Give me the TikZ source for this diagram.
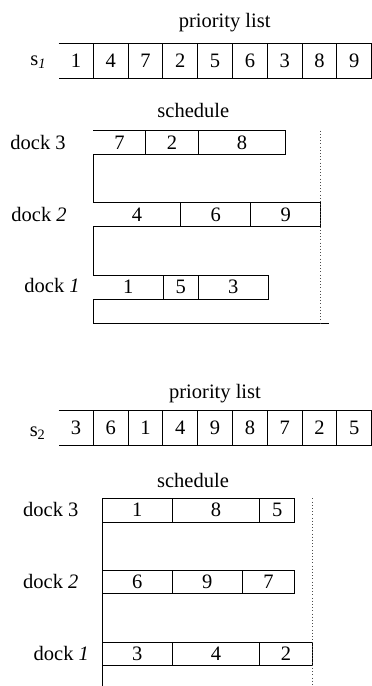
\documentclass[tikz,border=0pt]{standalone}
\usepackage{fontspec}
\setmainfont{Liberation Serif}
\usetikzlibrary{positioning}

\begin{document}
\begin{tikzpicture}[x=1pt,y=-1pt,font=\fontsize{20.5}{24}\selectfont,line width=0.9pt,
    lbl/.style={inner sep=0pt,anchor=base},
    dlbl/.style={inner sep=0pt,anchor=base west},
    lcell/.style={inner sep=0pt,outer sep=0pt,minimum width=34.8pt,minimum height=35pt,anchor=west},
    job/.style={inner sep=0pt,outer sep=0pt,minimum width=#1*17.5pt,minimum height=23.8pt,anchor=west},
    mk/.style={line width=0.8pt,black!70,dash pattern=on 0.8pt off 2.4pt}]
  \useasboundingbox (0,0) rectangle (372,686);

  % first priority list
  \node[lbl] (pl1) at (224.7,27) {priority list};
  \foreach \v [count=\i] in {1,4,7,2,5,6,3,8,9}
    \node[lcell] (pa\i) at ({58.5+(\i-1)*34.8},60.5) {\v};
  \node[dlbl] (s1) at (30,65) {s\textsubscript{\textit{1}}};
  \draw (pa1.north west) -- (pa9.north east) -- (pa9.south east) -- (pa1.south west);
  \foreach \i in {1,...,8} \draw (pa\i.north east) -- (pa\i.south east);

  % first schedule
  \node[lbl] (sc1) at (193.3,117) {schedule};
  \node[job=3] (ta7) at (93.3,142.5) {7};
  \node[job=3,right=0pt of ta7] (ta2) {2};
  \node[job=5,right=0pt of ta2] (ta8) {8};
  \node[job=5] (ta4) at (93.3,214.8) {4};
  \node[job=4,right=0pt of ta4] (ta6) {6};
  \node[job=4,right=0pt of ta6] (ta9) {9};
  \node[job=4] (ta1) at (93.3,287.2) {1};
  \node[job=2,right=0pt of ta1] (ta5) {5};
  \node[job=4,right=0pt of ta5] (ta3) {3};
  \node[dlbl] (td3) at (10,149) {dock 3};
  \node[dlbl] (td2) at (11,221) {dock \textit{2}};
  \node[dlbl] (td1) at (24,292.7) {dock \textit{1}};
  \foreach \a/\b in {ta7/ta8,ta4/ta9,ta1/ta3}
    \draw (\a.north west) -- (\b.north east) -- (\b.south east) -- (\a.south west);
  \foreach \c in {ta7,ta2,ta4,ta6,ta1,ta5} \draw (\c.north east) -- (\c.south east);
  \coordinate (tend) at (329.3,323);
  \draw (ta7.south west) -- (ta4.north west) (ta4.south west) -- (ta1.north west);
  \draw (ta1.south west) |- (tend);
  \draw[mk] (ta9.east |- ta8.north) -- (ta9.east |- tend);

  % second priority list
  \node[lbl] (pl2) at (215,398) {priority list};
  \foreach \v [count=\i] in {3,6,1,4,9,8,7,2,5}
    \node[lcell] (pb\i) at ({58.5+(\i-1)*34.8},427.9) {\v};
  \node[dlbl] (s2) at (29.3,436) {s\textsubscript{2}};
  \draw (pb1.north west) -- (pb9.north east) -- (pb9.south east) -- (pb1.south west);
  \foreach \i in {1,...,8} \draw (pb\i.north east) -- (pb\i.south east);

  % second schedule
  \node[lbl] (sc2) at (193,487) {schedule};
  \node[job=4,draw] (tb1) at (102.3,510.2) {1};
  \node[job=5,draw,right=0pt of tb1] (tb8) {8};
  \node[job=2,draw,right=0pt of tb8] (tb5) {5};
  \node[job=4,draw] (tb6) at (102.3,582) {6};
  \node[job=4,draw,right=0pt of tb6] (tb9) {9};
  \node[job=3,draw,right=0pt of tb9] (tb7) {7};
  \node[job=4,draw] (tb3) at (102.3,654) {3};
  \node[job=5,draw,right=0pt of tb3] (tb4) {4};
  \node[job=3,draw,right=0pt of tb4] (tb2) {2};
  \node[dlbl] (bd3) at (22.7,516) {dock 3};
  \node[dlbl] (bd2) at (22.7,588.7) {dock \textit{2}};
  \node[dlbl] (bd1) at (33.3,660) {dock \textit{1}};
  \coordinate (bend) at (102.3,686);
  \draw (tb1.north west) -- (bend);
  \draw[mk] (tb2.east |- tb1.north) -- (tb2.east |- bend);
\end{tikzpicture}
\end{document}
